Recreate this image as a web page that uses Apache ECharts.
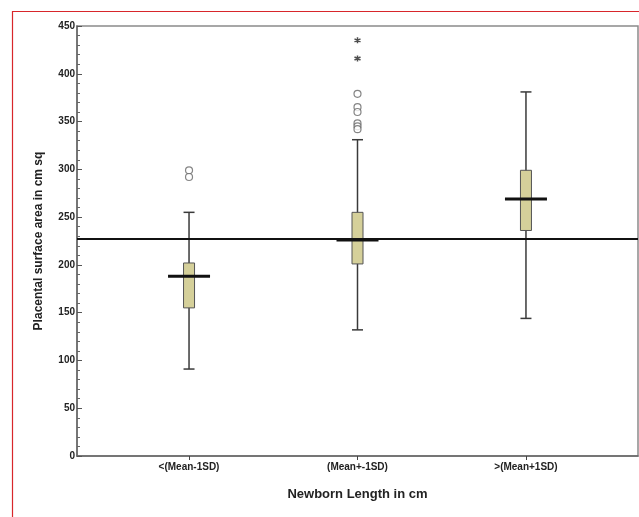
<!DOCTYPE html>
<html>
<head>
<meta charset="utf-8">
<script src="https://cdn.jsdelivr.net/npm/echarts@6/dist/echarts.min.js"></script>
<style>
  html, body { margin: 0; padding: 0; background: #fff; }
  #main { width: 639px; height: 517px; }
</style>
</head>
<body>
<div id="main"></div>
<script>
// groups on the x axis
var categories = ['<(Mean-1SD)', '(Mean+-1SD)', '>(Mean+1SD)'];
// box plot statistics
var whiskerLow  = [91, 132, 144];
var q1          = [155, 201, 236];
var q3          = [202, 255, 299];
var whiskerHigh = [255, 331, 381];
var means       = [188, 226, 269];
// outliers [group, value]
var circleOutliers = [[0, 299], [0, 292], [1, 379], [1, 365], [1, 360], [1, 348], [1, 345], [1, 342]];
var starOutliers   = [[1, 435], [1, 416]];
// overall reference line
var overallMean = 227;
var yTicks = [0, 450, 50];

var chart = echarts.init(document.getElementById('main'));

var boxData = categories.map(function (c, i) {
    return [i, whiskerLow[i], q1[i], q3[i], whiskerHigh[i], means[i]];
});

var font = 'Liberation Sans, Arial, sans-serif';

var option = {
    animation: false,
    graphic: [{
        type: 'rect',
        shape: { x: 12.5, y: 11.5, width: 700, height: 600 },
        style: { fill: 'none', stroke: '#d8262b', lineWidth: 1.2 },
        silent: true
    }],
    grid: {
        left: 77, right: 1, top: 26, bottom: 61,
        show: true, borderColor: '#8a8a8a', borderWidth: 1.5
    },
    xAxis: {
        type: 'value',
        min: -0.665,
        max: 2.665,
        name: 'Newborn Length in cm',
        nameLocation: 'middle',
        nameGap: 32,
        nameTextStyle: { fontFamily: font, fontWeight: 'bold', fontSize: 13, color: '#222' },
        axisLine: { onZero: false, lineStyle: { color: '#666', width: 1.5 } },
        axisTick: { show: true, length: 4, customValues: [0, 1, 2], lineStyle: { color: '#444' } },
        axisLabel: {
            customValues: [0, 1, 2],
            formatter: function (v) { return categories[Math.round(v)]; },
            fontFamily: font, fontWeight: 'bold', fontSize: 10, color: '#222', margin: 6
        },
        splitLine: { show: false }
    },
    yAxis: {
        type: 'value',
        min: yTicks[0],
        max: yTicks[1],
        interval: yTicks[2],
        name: 'Placental surface area in cm sq',
        nameLocation: 'middle',
        nameGap: 32,
        nameTextStyle: { fontFamily: font, fontWeight: 'bold', fontSize: 12, color: '#222' },
        axisLine: { onZero: false, lineStyle: { color: '#666', width: 1.5 } },
        axisTick: { show: true, inside: true, length: 5, lineStyle: { color: '#555' } },
        minorTick: { show: true, splitNumber: 5, length: 3, lineStyle: { color: '#666' } },
        axisLabel: { fontFamily: font, fontWeight: 'bold', fontSize: 10, color: '#222', margin: 2 },
        splitLine: { show: false }
    },
    series: [
        {
            type: 'custom',
            data: boxData,
            z: 3,
            renderItem: function (params, api) {
                var x = api.value(0);
                var low = api.coord([x, api.value(1)]);
                var b1 = api.coord([x, api.value(2)]);
                var b3 = api.coord([x, api.value(3)]);
                var high = api.coord([x, api.value(4)]);
                var mean = api.coord([x, api.value(5)]);
                var cx = low[0];
                var bw = 5.5, cap = 5.5, mw = 21;
                var stroke = { stroke: '#3a3a3a', lineWidth: 1.5 };
                return {
                    type: 'group',
                    children: [
                        { type: 'line', shape: { x1: cx, y1: high[1], x2: cx, y2: low[1] }, style: stroke },
                        { type: 'line', shape: { x1: cx - cap, y1: high[1], x2: cx + cap, y2: high[1] }, style: stroke },
                        { type: 'line', shape: { x1: cx - cap, y1: low[1], x2: cx + cap, y2: low[1] }, style: stroke },
                        { type: 'rect', shape: { x: cx - bw, y: b3[1], width: bw * 2, height: b1[1] - b3[1] },
                          style: { fill: '#d5d09a', stroke: '#555', lineWidth: 1 } },
                        { type: 'line', shape: { x1: cx - mw, y1: mean[1], x2: cx + mw, y2: mean[1] },
                          style: { stroke: '#111', lineWidth: 3 } }
                    ]
                };
            },
            markLine: {
                silent: true,
                symbol: 'none',
                label: { show: false },
                lineStyle: { color: '#111', width: 2, type: 'solid' },
                data: [{ yAxis: overallMean }]
            }
        },
        {
            type: 'scatter',
            data: circleOutliers,
            symbol: 'circle',
            symbolSize: 7,
            itemStyle: { color: '#fff', borderColor: '#666', borderWidth: 1.2 },
            z: 4
        },
        {
            type: 'scatter',
            data: starOutliers,
            symbol: 'path://M0,-5L0,5M-4.33,-2.5L4.33,2.5M-4.33,2.5L4.33,-2.5',
            symbolSize: 6,
            itemStyle: { color: 'none', borderColor: '#222', borderWidth: 1.5 },
            z: 4
        }
    ]
};

chart.setOption(option);
</script>
</body>
</html>
